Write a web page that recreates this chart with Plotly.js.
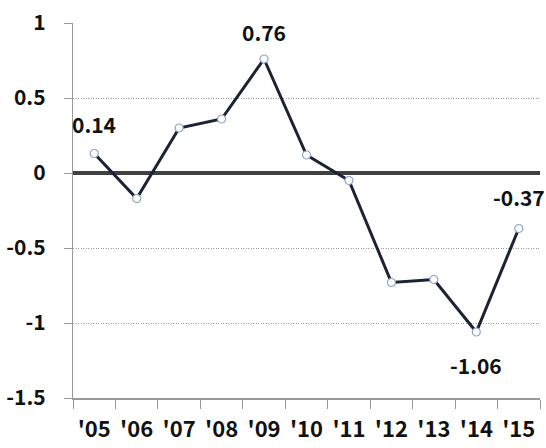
<!DOCTYPE html>
<html><head><meta charset="utf-8">
<script src="https://cdn.plot.ly/plotly-3.0.1.min.js"></script>
<style>body{margin:0;background:#fff}#c{width:546px;height:448px}</style>
</head><body><div id="c"></div>
<script>
const years = ["'05","'06","'07","'08","'09","'10","'11","'12","'13","'14","'15"];
const values = [0.13, -0.17, 0.30, 0.36, 0.76, 0.12, -0.05, -0.73, -0.71, -1.06, -0.37];
const yTickVals = [-1.5, -1, -0.5, 0, 0.5, 1];
const yTickText = ["-1.5", "-1", "-0.5", "0", "0.5", "1"];
const labelIdx = [0, 4, 9, 10];
const labelText = ["0.14", "0.76", "-1.06", "-0.37"];
const labelShift = [30, 27, -33, 32];

const font = "'Noto Sans CJK KR', 'Open Sans', sans-serif";
const annotations = labelIdx.map((i, k) => ({
  x: years[i], y: values[i], xref: 'x', yref: 'y', text: '<b>' + labelText[k] + '</b>',
  showarrow: false, yshift: labelShift[k], font: {family: font, size: 21, color: '#111'}
}));

Plotly.newPlot('c', [{
  x: years, y: values, type: 'scatter', mode: 'lines+markers',
  line: {color: '#1b2233', width: 3},
  marker: {size: 8, color: '#ffffff', line: {color: '#8ea4c8', width: 1.2}},
  hoverinfo: 'none'
}], {
  width: 546, height: 448,
  margin: {l: 73, r: 6, t: 23, b: 50},
  paper_bgcolor: '#fff', plot_bgcolor: '#fff',
  showlegend: false,
  annotations: annotations,
  xaxis: {
    type: 'category', range: [-0.5, 10.5], tickson: 'boundaries',
    ticks: 'outside', ticklen: 9, tickcolor: '#999', tickwidth: 1,
    showline: true, linecolor: '#999', linewidth: 1.5,
    showgrid: false, zeroline: false,
    tickfont: {family: font, size: 22, color: '#111', weight: 'bold'},
    ticklabelstandoff: 11
  },
  yaxis: {
    range: [-1.5, 1], tickvals: yTickVals, ticktext: yTickText,
    ticks: 'outside', ticklen: 8, tickcolor: '#999',
    showline: true, linecolor: '#999', linewidth: 1.2,
    showgrid: true, gridcolor: '#999', griddash: '1px,1.5px', gridwidth: 1,
    zeroline: true, zerolinecolor: '#404040', zerolinewidth: 3.5,
    tickfont: {family: font, size: 21, color: '#111', weight: 'bold'},
    ticklabelstandoff: 14
  }
}, {displayModeBar: false, staticPlot: true});
</script></body></html>
